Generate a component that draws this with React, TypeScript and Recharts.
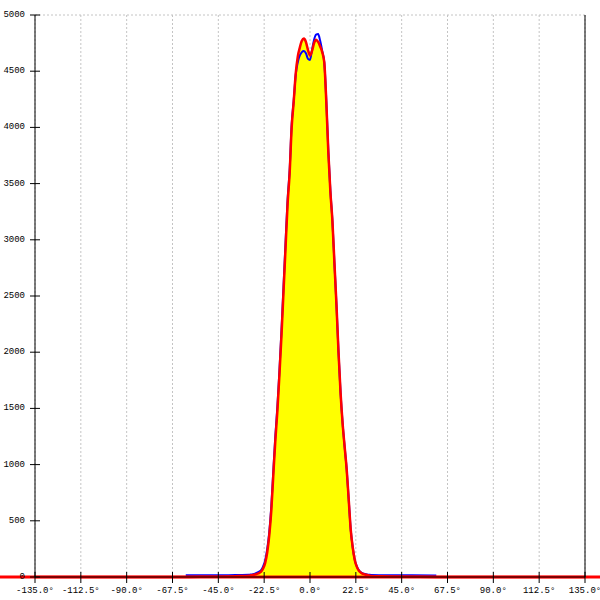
import React from "react";
import {
  ComposedChart,
  Area,
  Line,
  XAxis,
  YAxis,
  CartesianGrid,
  ReferenceLine,
} from "recharts";

const RED = "#ff0000";
const BLUE = "#0000ff";
const YELLOW = "#ffff00";
const GRID = "#c4c4c4";
const FONT = "'Liberation Mono', 'DejaVu Sans Mono', monospace";

// angle in degrees
const degrees = [
  -135, -61, -50, -40, -35,
  -30, -29, -28, -27, -26, -25, -24, -23, -22, -21, -20,
  -19, -18, -17, -16, -15, -14, -13, -12, -11, -10,
  -9, -8, -7, -6, -5, -4, -3, -2, -1, 0,
  1, 2, 3, 4, 5, 6, 7, 8, 9, 10,
  11, 12, 13, 14, 15, 16, 17, 18, 19, 20,
  21, 22, 23, 24, 25, 26, 27, 28, 29, 30,
  35, 40, 50, 62, 135,
];

const redValues = [
  0, 0, 2, 4, 8,
  12, 15, 18, 22, 28, 35, 48, 75, 125, 220, 370,
  590, 910, 1220, 1480, 1800, 2150, 2540, 2930, 3320, 3590,
  4000, 4230, 4480, 4630, 4710, 4770, 4790, 4760, 4690, 4640,
  4680, 4750, 4780, 4760, 4720, 4670, 4580, 4230, 3780, 3430,
  3170, 2790, 2420, 2000, 1640, 1370, 1160, 960, 690, 420,
  260, 150, 90, 55, 38, 28, 22, 18, 14, 10,
  6, 4, 2, 0, 0,
];

const blueValues: (number | null)[] = [
  null, 15, 15, 16, 18,
  20, 22, 25, 30, 38, 48, 62, 95, 150, 250, 400,
  630, 950, 1260, 1520, 1840, 2200, 2590, 2980, 3360, 3620,
  4030, 4240, 4470, 4580, 4640, 4670, 4680, 4660, 4610, 4600,
  4690, 4780, 4825, 4830, 4770, 4680, 4580, 4240, 3790, 3440,
  3170, 2790, 2420, 2000, 1640, 1370, 1160, 960, 690, 420,
  260, 150, 95, 60, 42, 32, 26, 22, 20, 18,
  16, 15, 15, 14, null,
];

const xTicks = [-135, -112.5, -90, -67.5, -45, -22.5, 0, 22.5, 45, 67.5, 90, 112.5, 135];
const yTicks = [0, 500, 1000, 1500, 2000, 2500, 3000, 3500, 4000, 4500, 5000];

const data = degrees.map((d, i) => ({ deg: d, red: redValues[i], blue: blueValues[i] }));

function XTick({ x, payload }: any) {
  return (
    <g>
      <line x1={x} x2={x} y1={572} y2={583} stroke="#000" />
      <text x={x} y={591} textAnchor="middle" dominantBaseline="central" fontFamily={FONT} fontSize={9} fill="#000">
        {`${Number(payload.value).toFixed(1)}°`}
      </text>
    </g>
  );
}

function YTick({ y, payload }: any) {
  return (
    <g>
      <line x1={30} x2={40} y1={y} y2={y} stroke="#000" />
      <text x={25} y={y} textAnchor="end" dominantBaseline="central" fontFamily={FONT} fontSize={9} fill="#000">
        {payload.value}
      </text>
    </g>
  );
}

export default function App() {
  return (
    <div style={{ position: "absolute", left: 0, top: 0, background: "#fff" }}>
      <ComposedChart width={600} height={600} data={data} margin={{ top: 15, right: 0, bottom: 0, left: 0 }}>
        <CartesianGrid stroke={GRID} strokeDasharray="2 2" />
        <XAxis
          dataKey="deg"
          type="number"
          domain={[-135, 135]}
          ticks={xTicks}
          height={23}
          axisLine={{ stroke: "#000" }}
          tickLine={false}
          tick={<XTick />}
          interval={0}
        />
        <YAxis
          yAxisId="left"
          domain={[0, 5000]}
          ticks={yTicks}
          width={35}
          axisLine={{ stroke: "#000" }}
          tickLine={false}
          tick={<YTick />}
          interval={0}
        />
        <YAxis yAxisId="right" orientation="right" domain={[0, 5000]} width={15} axisLine={{ stroke: "#000" }} tick={false} tickLine={false} />
        <Area yAxisId="left" type="monotone" dataKey="red" fill={YELLOW} fillOpacity={1} stroke="none" isAnimationActive={false} />
        <Line yAxisId="left" type="monotone" dataKey="blue" stroke={BLUE} strokeWidth={2} dot={false} isAnimationActive={false} />
        <Line yAxisId="left" type="monotone" dataKey="red" stroke={RED} strokeWidth={2.5} dot={false} isAnimationActive={false} />
        <ReferenceLine
          yAxisId="left"
          segment={[{ x: -153, y: 0 }, { x: 143, y: 0 }]}
          stroke={RED}
          strokeWidth={3}
          ifOverflow="visible"
        />
      </ComposedChart>
    </div>
  );
}
